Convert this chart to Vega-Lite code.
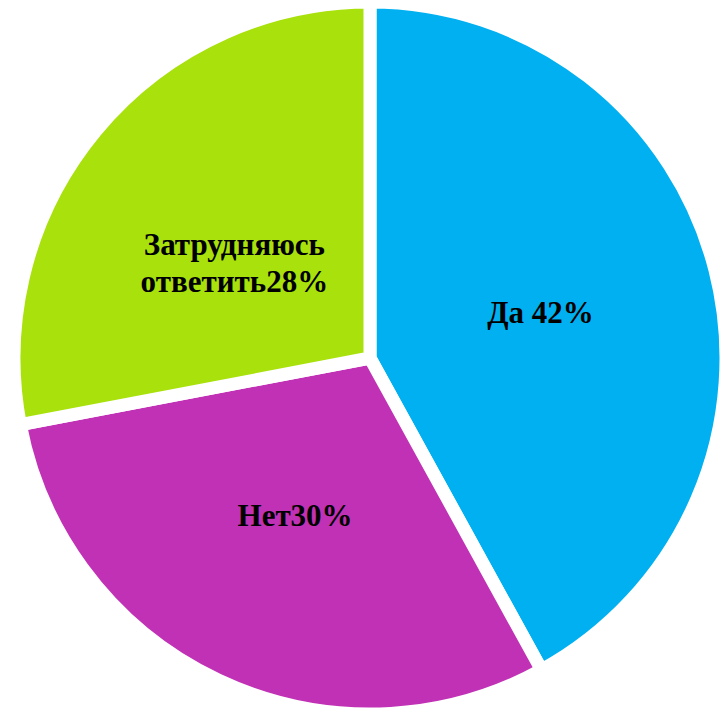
{
  "$schema": "https://vega.github.io/schema/vega-lite/v6.json",
  "width": 700,
  "height": 700,
  "autosize": "none",
  "padding": {"left": 20, "top": 8, "right": 2, "bottom": 3},
  "background": "white",
  "data": {
    "values": [
      {"answer": "Да", "value": 42, "order": 1, "label": "Да 42%"},
      {"answer": "Нет", "value": 30, "order": 2, "label": "Нет30%"},
      {"answer": "Затрудняюсь ответить", "value": 28, "order": 3, "label": "Затрудняюсь\nответить28%"}
    ]
  },
  "encoding": {
    "theta": {"field": "value", "type": "quantitative", "stack": true},
    "order": {"field": "order", "type": "quantitative"}
  },
  "layer": [
    {
      "mark": {"type": "arc", "outerRadius": 356, "stroke": "white", "strokeWidth": 13},
      "encoding": {
        "color": {
          "field": "answer",
          "type": "nominal",
          "scale": {
            "domain": ["Да", "Нет", "Затрудняюсь ответить"],
            "range": ["#00B0F0", "#C131B5", "#A8E10C"]
          },
          "legend": null
        }
      }
    },
    {
      "mark": {
        "type": "text",
        "radius": 176,
        "font": "Liberation Serif",
        "fontWeight": "bold",
        "fontSize": 31,
        "lineBreak": "\n",
        "lineHeight": 37,
        "color": "black",
        "align": "center",
        "baseline": "middle"
      },
      "encoding": {
        "text": {"field": "label"}
      }
    }
  ]
}
